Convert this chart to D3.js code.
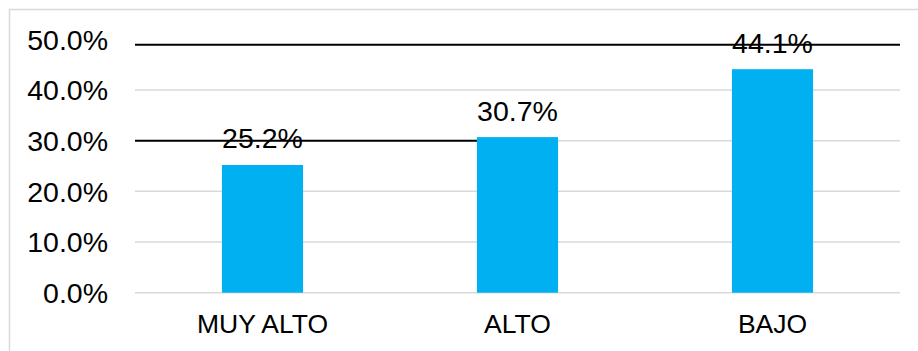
<!DOCTYPE html>
<html><head><meta charset="utf-8">
<script src="https://cdn.jsdelivr.net/npm/d3@7"></script>
<style>html,body{margin:0;padding:0;background:#fff;}svg{display:block;font-family:"Liberation Sans",Arial,sans-serif;}</style>
</head><body>
<script>
const categories = ["MUY ALTO", "ALTO", "BAJO"];
const values = [25.2, 30.7, 44.1];
const yTicks = [0, 10, 20, 30, 40, 50];
const gridTicks = [0, 10, 20, 30, 40];
// annotation lines: value level and category where the line ends (null = full width)
const refLevels = [48.9, 30];
const refEnds = [null, "ALTO"];

(function () {
const W = 918, H = 351;
const svg = d3.select("body").append("svg").attr("width", W).attr("height", H);

// chart border
svg.append("rect").attr("x", 9.5).attr("y", 9.5).attr("width", W + 20).attr("height", H + 20)
  .attr("fill", "none").attr("stroke", "#d9d9d9").attr("stroke-width", 1.5);

const pLeft = 135, pRight = 900, pTop = 39.3, pBottom = 292.7;
const x = d3.scaleBand().domain(categories).range([pLeft, pRight]).paddingInner(0.682).paddingOuter(0.341);
const y = d3.scaleLinear().domain([0, 50]).range([pBottom, pTop]);

// gridlines
svg.append("g").selectAll("line").data(gridTicks).join("line")
  .attr("x1", pLeft).attr("x2", pRight)
  .attr("y1", d => y(d)).attr("y2", d => y(d))
  .attr("stroke", "#d9d9d9").attr("stroke-width", 1.5);

// y tick labels
svg.append("g").selectAll("text").data(yTicks).join("text")
  .attr("x", 108).attr("y", d => y(d))
  .attr("dy", "0.36em")
  .attr("text-anchor", "end")
  .attr("font-size", 28.5).attr("fill", "#000")
  .text(d => d3.format(".1f")(d) + "%");

// bars
svg.append("g").selectAll("rect").data(values).join("rect")
  .attr("x", (d, i) => x(categories[i]))
  .attr("width", x.bandwidth())
  .attr("y", d => y(d))
  .attr("height", d => y(0) - y(d))
  .attr("fill", "#00B0F0");

// value labels
svg.append("g").selectAll("text").data(values).join("text")
  .attr("x", (d, i) => x(categories[i]) + x.bandwidth() / 2)
  .attr("y", d => y(d) - 16.5)
  .attr("text-anchor", "middle")
  .attr("font-size", 28.5).attr("fill", "#000")
  .text(d => d3.format(".1f")(d) + "%");

// category labels
svg.append("g").selectAll("text").data(categories).join("text")
  .attr("x", d => x(d) + x.bandwidth() / 2)
  .attr("y", 333.3)
  .attr("text-anchor", "middle")
  .attr("font-size", 26.5).attr("fill", "#000")
  .text(d => d);

// black annotation lines
svg.append("g").selectAll("line").data(refLevels).join("line")
  .attr("x1", pLeft)
  .attr("x2", (d, i) => refEnds[i] ? x(refEnds[i]) : pRight)
  .attr("y1", d => y(d)).attr("y2", d => y(d))
  .attr("stroke", "#000").attr("stroke-width", 2);
})();
</script>
</body></html>
